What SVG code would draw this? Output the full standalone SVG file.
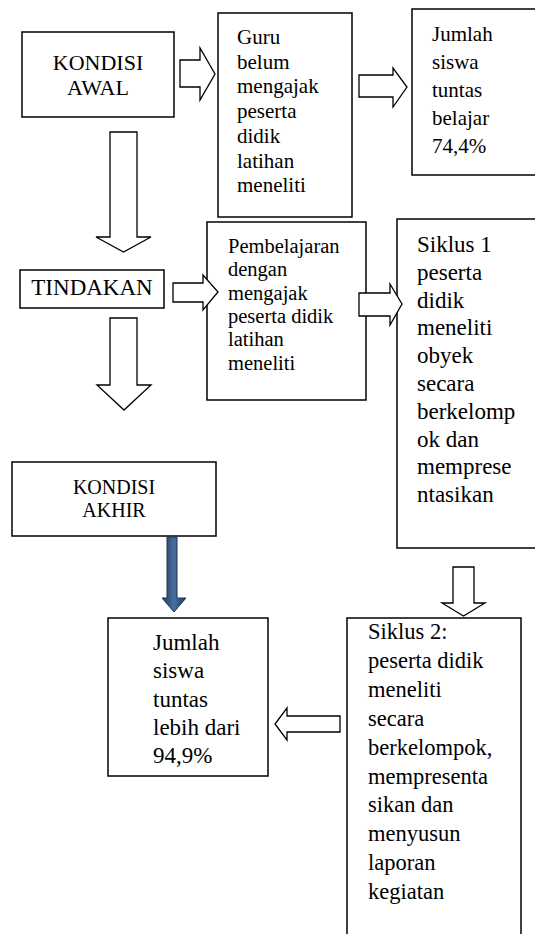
<svg xmlns="http://www.w3.org/2000/svg" width="535" height="934" viewBox="0 0 535 934">
<style>
.box{fill:#fff;stroke:#000;stroke-width:1.5}
.arr{fill:#fff;stroke:#000;stroke-width:1.3;stroke-linejoin:miter}
.c{text-anchor:middle}
</style>
<defs>
<linearGradient id="blue" x1="0" y1="0" x2="1" y2="0">
<stop offset="0" stop-color="#1f3a5f"/>
<stop offset="0.5" stop-color="#4a6e9c"/>
<stop offset="1" stop-color="#1f3a5f"/>
</linearGradient>
</defs>
<rect width="535" height="934" fill="#fff"/>

<g id="kondisi-awal">
<rect class="box" x="22" y="32" width="152" height="85"/>
<text class="c" font-family="Liberation Serif" x="98" y="70" font-size="22">KONDISI</text>
<text class="c" font-family="Liberation Serif" x="98" y="95" font-size="22">AWAL</text>
</g>

<g id="guru">
<rect class="box" x="218" y="13" width="134" height="204"/>
<text font-family="Liberation Serif" font-size="21" x="237" y="44">Guru</text>
<text font-family="Liberation Serif" font-size="21" x="237" y="68.7">belum</text>
<text font-family="Liberation Serif" font-size="21" x="237" y="93.4">mengajak</text>
<text font-family="Liberation Serif" font-size="21" x="237" y="118.1">peserta</text>
<text font-family="Liberation Serif" font-size="21" x="237" y="142.8">didik</text>
<text font-family="Liberation Serif" font-size="21" x="237" y="167.5">latihan</text>
<text font-family="Liberation Serif" font-size="21" x="237" y="192.2">meneliti</text>
</g>

<g id="jumlah-awal">
<rect class="box" x="412" y="9" width="140" height="166"/>
<text font-family="Liberation Serif" font-size="21" x="432" y="41">Jumlah</text>
<text font-family="Liberation Serif" font-size="21" x="432" y="69">siswa</text>
<text font-family="Liberation Serif" font-size="21" x="432" y="97">tuntas</text>
<text font-family="Liberation Serif" font-size="21" x="432" y="125">belajar</text>
<text font-family="Liberation Serif" font-size="21" x="432" y="153">74,4%</text>
</g>

<g id="tindakan">
<rect class="box" x="20" y="270" width="144" height="38"/>
<text class="c" font-family="Liberation Serif" x="92" y="295" font-size="23">TINDAKAN</text>
</g>

<g id="pembelajaran">
<rect class="box" x="207" y="222" width="159" height="178"/>
<text font-family="Liberation Serif" font-size="20.5" x="228" y="253">Pembelajaran</text>
<text font-family="Liberation Serif" font-size="20.5" x="228" y="276.3">dengan</text>
<text font-family="Liberation Serif" font-size="20.5" x="228" y="299.6">mengajak</text>
<text font-family="Liberation Serif" font-size="20.5" x="228" y="322.9">peserta didik</text>
<text font-family="Liberation Serif" font-size="20.5" x="228" y="346.2">latihan</text>
<text font-family="Liberation Serif" font-size="20.5" x="228" y="369.5">meneliti</text>
</g>

<g id="siklus1">
<rect class="box" x="397" y="219" width="150" height="329"/>
<text font-family="Liberation Serif" font-size="23" x="417" y="252">Siklus 1</text>
<text font-family="Liberation Serif" font-size="23" x="417" y="279.8">peserta</text>
<text font-family="Liberation Serif" font-size="23" x="417" y="307.6">didik</text>
<text font-family="Liberation Serif" font-size="23" x="417" y="335.4">meneliti</text>
<text font-family="Liberation Serif" font-size="23" x="417" y="363.2">obyek</text>
<text font-family="Liberation Serif" font-size="23" x="417" y="391">secara</text>
<text font-family="Liberation Serif" font-size="23" x="417" y="418.8">berkelomp</text>
<text font-family="Liberation Serif" font-size="23" x="417" y="446.6">ok dan</text>
<text font-family="Liberation Serif" font-size="23" x="417" y="474.4">memprese</text>
<text font-family="Liberation Serif" font-size="23" x="417" y="502.2">ntasikan</text>
</g>

<g id="kondisi-akhir">
<rect class="box" x="12" y="462" width="204" height="74"/>
<text class="c" font-family="Liberation Serif" x="114" y="494" font-size="20">KONDISI</text>
<text class="c" font-family="Liberation Serif" x="114" y="517" font-size="20">AKHIR</text>
</g>

<g id="jumlah-akhir">
<rect class="box" x="108" y="618" width="160" height="158"/>
<text font-family="Liberation Serif" font-size="23" x="153" y="650">Jumlah</text>
<text font-family="Liberation Serif" font-size="23" x="153" y="678.3">siswa</text>
<text font-family="Liberation Serif" font-size="23" x="153" y="706.6">tuntas</text>
<text font-family="Liberation Serif" font-size="23" x="153" y="734.9">lebih dari</text>
<text font-family="Liberation Serif" font-size="23" x="153" y="763.2">94,9%</text>
</g>

<g id="siklus2">
<rect class="box" x="347" y="618" width="174" height="330"/>
<text font-family="Liberation Serif" font-size="22.5" x="368" y="639">Siklus 2:</text>
<text font-family="Liberation Serif" font-size="22.5" x="368" y="667.9">peserta didik</text>
<text font-family="Liberation Serif" font-size="22.5" x="368" y="696.8">meneliti</text>
<text font-family="Liberation Serif" font-size="22.5" x="368" y="725.7">secara</text>
<text font-family="Liberation Serif" font-size="22.5" x="368" y="754.6">berkelompok,</text>
<text font-family="Liberation Serif" font-size="22.5" x="368" y="783.5">mempresenta</text>
<text font-family="Liberation Serif" font-size="22.5" x="368" y="812.4">sikan dan</text>
<text font-family="Liberation Serif" font-size="22.5" x="368" y="841.3">menyusun</text>
<text font-family="Liberation Serif" font-size="22.5" x="368" y="870.2">laporan</text>
<text font-family="Liberation Serif" font-size="22.5" x="368" y="899.1">kegiatan</text>
</g>

<g id="connectors">
<path class="arr" d="M180,60 H200 V48 L215,74 L200,100 V87 H180 Z"/>
<path class="arr" d="M359,75 H393 V68 L407,87 L393,107 V97 H359 Z"/>
<path class="arr" d="M110,132 H137 V237 H151 L123.5,252 L96,237 H110 Z"/>
<path class="arr" d="M173,283 H203 V275 L218,292 L203,310 V302 H173 Z"/>
<path class="arr" d="M359,293 H390 V284 L402,304 L390,325 V316 H359 Z"/>
<path class="arr" d="M110,318 H137 V385 H151 L124,410 L97,385 H110 Z"/>
<path class="arr" d="M453,567 H474 V603 H485 L463.5,616 L442,603 H453 Z"/>
<path class="arr" d="M340,716 H287 V708 L275,724 L287,740 V732 H340 Z"/>
<path d="M167,537 H177 V598 H186 L174,612 L162,598 H167 Z" fill="url(#blue)" stroke="#1e3759" stroke-width="1"/>
</g>
</svg>
